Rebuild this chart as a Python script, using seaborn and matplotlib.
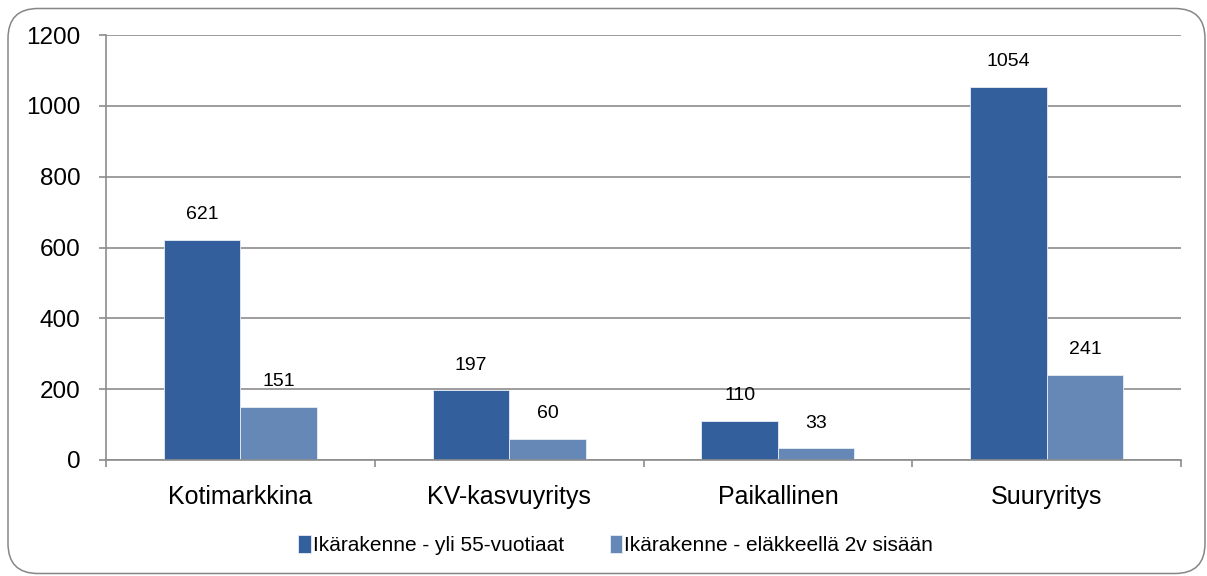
import seaborn as sns
import pandas as pd
import matplotlib.pyplot as plt
from matplotlib.patches import FancyBboxPatch

categories = ['Kotimarkkina', 'KV-kasvuyritys', 'Paikallinen', 'Suuryritys']
series_names = ['Ikärakenne - yli 55-vuotiaat', 'Ikärakenne - eläkkeellä 2v sisään']
yli55 = [621, 197, 110, 1054]
elakkeella = [151, 60, 33, 241]
colors = ['#335f9c', '#6688b6']

# long format for seaborn
df = pd.DataFrame({
    'kategoria': categories * 2,
    'sarja': [series_names[0]] * 4 + [series_names[1]] * 4,
    'arvo': yli55 + elakkeella,
})

sns.set_style('white')
plt.rcParams['font.family'] = ['Liberation Sans', 'DejaVu Sans']
plt.rcParams['text.color'] = 'black'
plt.rcParams['xtick.labelcolor'] = 'black'
plt.rcParams['ytick.labelcolor'] = 'black'

fig = plt.figure(figsize=(12.07, 5.76), dpi=100)
ax = fig.add_axes([0.0878, 0.2014, 0.8907, 0.7378])

# rounded frame around the whole chart (inches)
frame = FancyBboxPatch((0.08, 0.025), 11.97, 5.65, boxstyle='round,pad=0,rounding_size=0.3',
                       transform=fig.dpi_scale_trans, facecolor='none', edgecolor='#868686',
                       linewidth=1.1)
fig.patches.append(frame)

sns.barplot(data=df, x='kategoria', y='arvo', hue='sarja', palette=colors,
            width=0.57, gap=0, ax=ax, legend=True, saturation=1,
            edgecolor='#e8edf4', linewidth=0.6)

for cont in ax.containers:
    ax.bar_label(cont, padding=12, fontsize=14, color='black')

ax.set_ylim(0, 1200)
ax.set_yticks(range(0, 1201, 200))
ax.set_xlim(-0.5, 3.5)
ax.yaxis.grid(True, color='#8c8c8c', linewidth=1.2)
ax.set_axisbelow(True)
ax.set_xlabel('')
ax.set_ylabel('')
for s in ['top', 'right']:
    ax.spines[s].set_visible(False)
for s in ['left', 'bottom']:
    ax.spines[s].set_color('#8c8c8c')
    ax.spines[s].set_linewidth(1.2)

ax.tick_params(axis='y', left=True, length=5, color='#8c8c8c', width=1.2, labelsize=17.5,
               pad=13.5, labelcolor='black')
ax.tick_params(axis='x', bottom=True, length=0, labelsize=18, pad=18, labelcolor='black')
# category separator ticks
ax.set_xticks([-0.5, 0.5, 1.5, 2.5, 3.5], minor=True)
ax.tick_params(axis='x', which='minor', bottom=True, length=5, color='#8c8c8c', width=1.2)

leg = ax.legend(loc='center', bbox_to_anchor=(0.51, 0.054), bbox_transform=fig.transFigure,
                ncol=2, frameon=False, fontsize=15, handlelength=0.6, handleheight=1.0,
                handletextpad=0.1, columnspacing=2.2)
for t in leg.get_texts():
    t.set_color('black')

fig.savefig('out.png', dpi=100)
